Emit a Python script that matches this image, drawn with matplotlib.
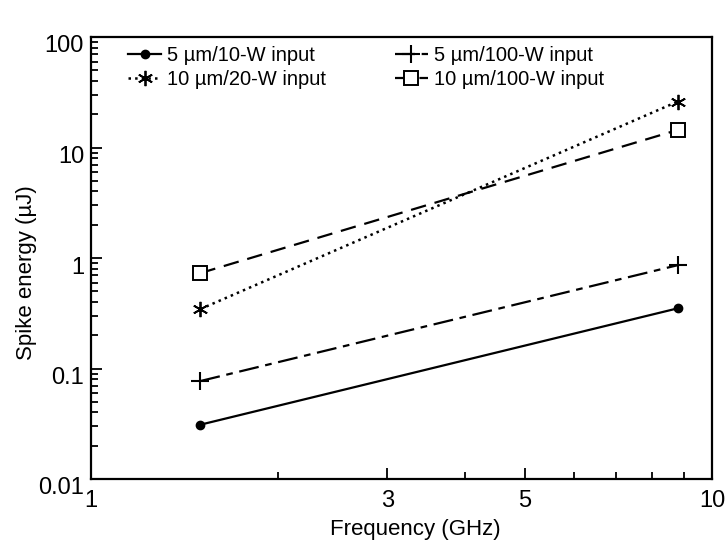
import matplotlib
matplotlib.use("Agg")
import matplotlib.pyplot as plt
import matplotlib.transforms as mtransforms
from matplotlib.ticker import FixedLocator, NullFormatter, LogLocator

plt.rcParams['font.family'] = ['Liberation Sans', 'DejaVu Sans']

freq = [1.5, 8.8]
e_5um_10w = [0.031, 0.35]
e_5um_100w = [0.077, 0.86]
e_10um_20w = [0.345, 26]
e_10um_100w = [0.73, 14.4]

fig = plt.figure(figsize=(7.28, 5.46), dpi=100)
ax = fig.add_axes([91 / 728, 1 - 479 / 546, (712 - 91) / 728, (479 - 37) / 546])

ax.plot(freq, e_5um_10w, color='black', lw=1.6, ls='-', marker='o', ms=6,
        label='5 µm/10-W input')
ax.plot(freq, e_10um_20w, color='black', lw=1.8, ls=':', marker=(6, 2, 0), ms=11,
        mew=1.3, label='10 µm/20-W input')
ax.plot(freq, e_5um_100w, color='black', lw=1.6, ls=(0, (9, 3, 3, 3)), marker='+', ms=13,
        mew=1.5, label='5 µm/100-W input')
ax.plot(freq, e_10um_100w, color='black', lw=1.6, ls=(0, (7, 4)), marker='s', ms=10,
        mfc='white', mew=1.4, label='10 µm/100-W input')

ax.set_xscale('log')
ax.set_yscale('log')
ax.set_xlim(1, 10)
ax.set_ylim(0.01, 100)

ax.xaxis.set_major_locator(FixedLocator([1, 3, 5, 10]))
ax.xaxis.set_minor_locator(FixedLocator([2, 4, 6, 7, 8, 9]))
ax.xaxis.set_minor_formatter(NullFormatter())
ax.set_xticklabels(['1', '3', '5', '10'])
ax.set_yticks([0.01, 0.1, 1, 10, 100])
ax.set_yticklabels(['0.01', '0.1', '1', '10', '100'])
ax.yaxis.set_minor_locator(LogLocator(base=10, subs=range(2, 10)))
ax.yaxis.set_minor_formatter(NullFormatter())

ax.tick_params(which='both', direction='in', labelsize=17, width=1.3)
ax.tick_params(which='major', length=8)
ax.tick_params(which='minor', length=5)
ax.tick_params(axis='x', pad=8)
ax.tick_params(axis='y', pad=5)
for s in ax.spines.values():
    s.set_linewidth(1.6)

# y tick labels sit a little below their ticks in the original
shift = mtransforms.ScaledTranslation(0, -7 / 100, fig.dpi_scale_trans)
for lab in ax.get_yticklabels():
    lab.set_transform(lab.get_transform() + shift)

ax.set_xlabel('Frequency (GHz)', fontsize=16)
ax.set_ylabel('Spike energy (µJ)', fontsize=16)
ax.xaxis.set_label_coords(0.523, -0.09)
ax.yaxis.set_label_coords(-0.087, 0.468)

ax.legend(loc='upper left', ncol=2, frameon=False, fontsize=14.5, handlelength=1.65,
          columnspacing=3.4, handletextpad=0.3, labelspacing=0.25,
          borderpad=0.2, bbox_to_anchor=(0.037, 1.012))

fig.savefig('out.png', dpi=100)
